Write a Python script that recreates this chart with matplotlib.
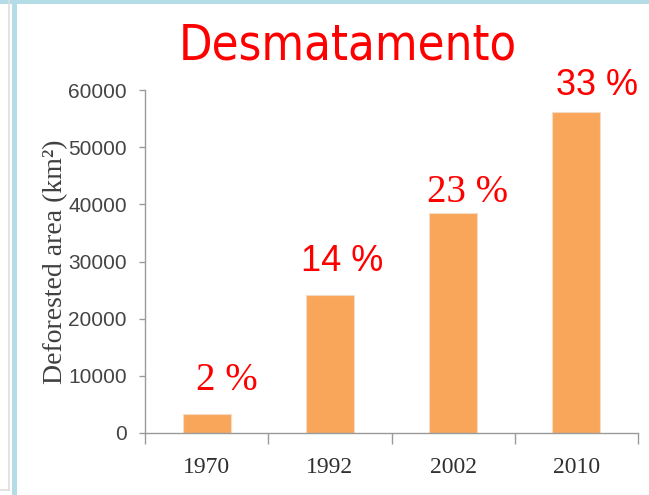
import matplotlib
matplotlib.use("Agg")
import matplotlib.pyplot as plt
from matplotlib.patches import Rectangle
from matplotlib.lines import Line2D

years = ["1970", "1992", "2002", "2010"]
deforested_km2 = [3300, 24200, 38500, 56200]
percent_labels = ["2 %", "14 %", "23 %", "33 %"]
yticks = [0, 10000, 20000, 30000, 40000, 50000, 60000]

# annotation layout (position of each percentage label)
label_dx = [0.167, 0.10, 0.118, 0.167]
label_y = [9270, 30070, 42130, 60840]
label_serif = [True, False, True, False]

W, H = 649, 495
fig = plt.figure(figsize=(W / 100, H / 100), dpi=100)
fig.patch.set_facecolor("white")

# slide frame decorations
blue = "#B3DCE7"
fig.patches.append(Rectangle((0, 1 - 4 / H), 1, 4 / H, transform=fig.transFigure,
                             facecolor=blue, edgecolor="none", zorder=0))
fig.patches.append(Rectangle((12 / W, 0), 4.5 / W, 1, transform=fig.transFigure,
                             facecolor=blue, edgecolor="none", zorder=0))
fig.lines.append(Line2D([9 / W, 9 / W], [1, 1 - 490 / H], transform=fig.transFigure,
                        color="#dedede", lw=1.2))
fig.lines.append(Line2D([0, 9 / W], [1 - 490 / H, 1 - 490 / H], transform=fig.transFigure,
                        color="#dedede", lw=1.2))

ax = fig.add_axes([145 / W, 62 / H, 493 / W, 343 / H])
x = list(range(len(years)))
ax.bar(x, deforested_km2, width=0.39, color="#F9A65A", edgecolor="#f3dcc6",
       linewidth=0.8, zorder=2)

ax.set_xlim(-0.5, len(years) - 0.5)
ax.set_ylim(0, 60000)
for s in ["top", "right"]:
    ax.spines[s].set_visible(False)
for s in ["left", "bottom"]:
    ax.spines[s].set_color("#9a9a9a")
    ax.spines[s].set_linewidth(1.0)

ax.set_yticks(yticks)
ax.set_yticklabels([str(v) for v in yticks], fontfamily="Liberation Sans",
                   fontsize=15, color="#444444")
ax.tick_params(axis="y", length=4, width=1, color="#9a9a9a", pad=9)

ax.set_xticks([i - 0.5 for i in range(len(years) + 1)])
ax.set_xticklabels([])
ax.tick_params(axis="x", which="major", length=8, width=1, color="#9a9a9a")
ax.set_xticks(x, minor=True)
ax.set_xticklabels(years, minor=True, fontfamily="Liberation Serif",
                   fontsize=17, color="#303030")
ax.tick_params(axis="x", which="minor", length=0, pad=17)

ax.set_ylabel("Deforested area (km²)", fontfamily="Liberation Serif",
              fontsize=20, color="#404040")
ax.yaxis.set_label_coords(-(145 - 68) / 493, 0.5)

for i, (lab, dx, ly, serif) in enumerate(zip(percent_labels, label_dx, label_y, label_serif)):
    ax.text(i + dx, ly, lab, ha="center", va="center", color="#FF0000",
            fontfamily="Liberation Serif" if serif else "Liberation Sans",
            fontsize=28 if serif else 26, clip_on=False)

fig.text(348 / W, 1 - 45 / H, "Desmatamento", ha="center", va="center",
         color="#FF0000", fontfamily="DejaVu Sans", fontstretch="condensed",
         fontsize=35)

fig.savefig("out.png", dpi=100, facecolor="white")
